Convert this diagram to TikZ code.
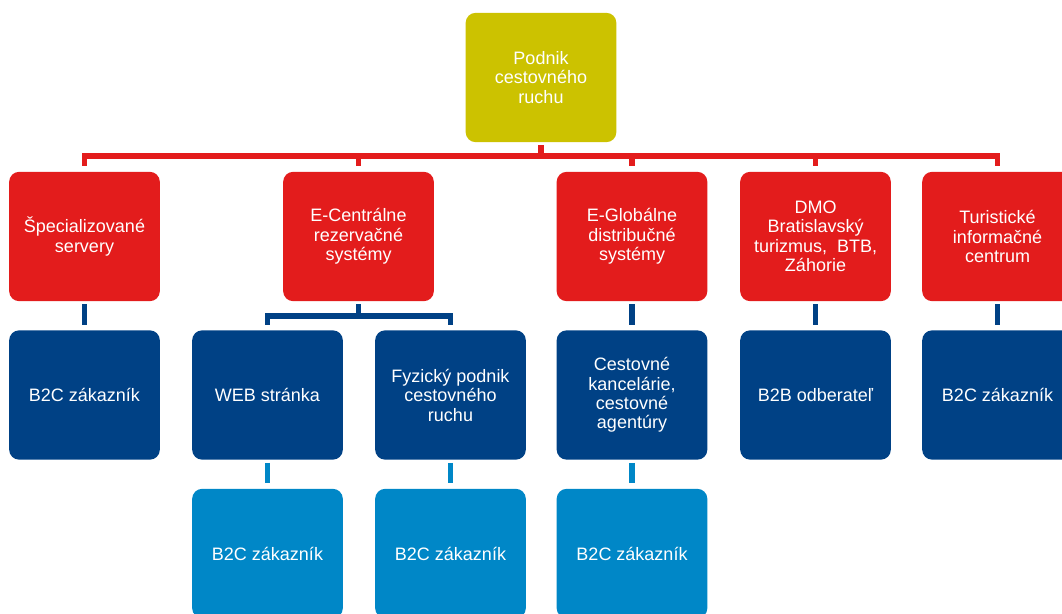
\documentclass[tikz,border=0pt]{standalone}
\usepackage{fontspec}
\setmainfont{Liberation Sans}
\usetikzlibrary{positioning}
\definecolor{gold}{HTML}{CCC200}
\definecolor{redbx}{HTML}{E31C1C}
\definecolor{navy}{HTML}{004185}
\definecolor{sky}{HTML}{0087C7}
\tikzset{
  box/.style={rounded corners=7.5pt, text=white, align=center,
              minimum width=113pt, minimum height=97pt, inner sep=2pt,
              font=\fontsize{13.5}{14.6}\selectfont},
  goldbox/.style={box, fill=gold},
  redbox/.style={box, fill=redbx},
  navybox/.style={box, fill=navy},
  skybox/.style={box, fill=sky},
  ln/.style={line width=4pt, shorten <=2.25pt, shorten >=4pt},
  redln/.style={ln, draw=redbx},
  navyln/.style={ln, draw=navy},
  skyln/.style={ln, draw=sky}
}

\begin{document}
\begin{tikzpicture}[x=0.75pt,y=-0.75pt]
  \useasboundingbox (0,0) rectangle (1062,613);
  \clip (0,0) rectangle (1062,613);
  % top
  \node[goldbox] (top) at (541,77.5) {Podnik\\cestovného\\ruchu};
  % red row
  \node[redbox] (srv) at (84.5,236.5) {Špecializované\\servery};
  \node[redbox] (crs) at (358.5,236.5) {E-Centrálne\\rezervačné\\systémy};
  \node[redbox] (gds) at (632,236.5) {E-Globálne\\distribučné\\systémy};
  \node[redbox] (dmo) at (815.5,236.5) {DMO\\Bratislavský\\turizmus,~ BTB,\\Záhorie};
  \node[redbox] (tic) at (997.5,236.5) {Turistické\\informačné\\centrum};
  % navy row
  \node[navybox] (srvc) at (84.5,395) {B2C zákazník};
  \node[navybox] (web) at (267.5,395) {WEB stránka};
  \node[navybox] (fyz) at (450.5,395) {Fyzický podnik\\cestovného\\ruchu};
  \node[navybox] (ck) at (632,395) {Cestovné\\kancelárie,\\cestovné\\agentúry};
  \node[navybox] (b2b) at (815.5,395) {B2B odberateľ};
  \node[navybox] (ticc) at (997.5,395) {B2C zákazník};
  % sky row
  \node[skybox] (webc) at (267.5,553.5) {B2C zákazník};
  \node[skybox] (fyzc) at (450.5,553.5) {B2C zákazník};
  \node[skybox] (ckc) at (632,553.5) {B2C zákazník};

  % connectors
  \coordinate (bus) at (541,156);
  \coordinate (bus2) at (358.5,316);
  \draw[redln, shorten >=0pt] (top.south) -- (top.south |- bus);
  \foreach \c in {srv,crs,gds,dmo,tic}
    \draw[redln, shorten <=0pt] (top.south |- bus) -| (\c.north);
  \draw[navyln, shorten >=0pt] (crs.south) -- (bus2);
  \foreach \c in {web,fyz}
    \draw[navyln, shorten <=0pt] (bus2) -| (\c.north);
  \draw[navyln] (srv) -- (srvc);
  \draw[navyln] (gds) -- (ck);
  \draw[navyln] (dmo) -- (b2b);
  \draw[navyln] (tic) -- (ticc);
  \draw[skyln] (web) -- (webc);
  \draw[skyln] (fyz) -- (fyzc);
  \draw[skyln] (ck) -- (ckc);
\end{tikzpicture}
\end{document}
